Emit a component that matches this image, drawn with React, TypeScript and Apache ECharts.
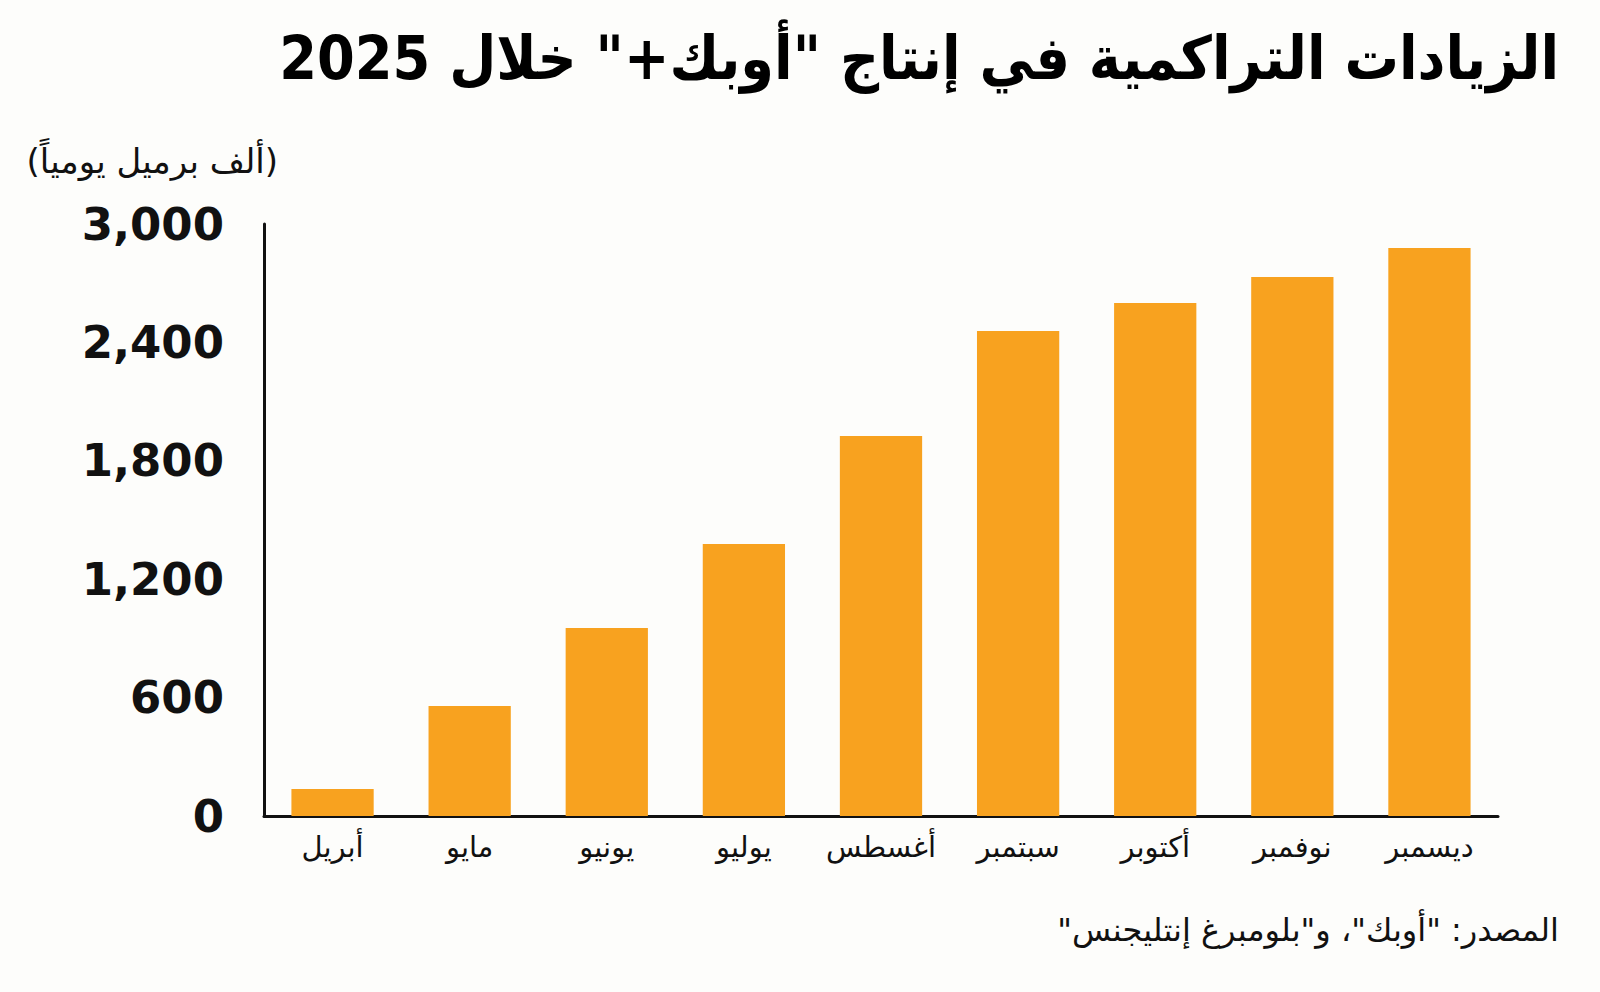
import React, { useEffect, useRef } from "react";
import * as echarts from "echarts";

const months = ["أبريل", "مايو", "يونيو", "يوليو", "أغسطس", "سبتمبر", "أكتوبر", "نوفمبر", "ديسمبر"];
const cumulativeIncrease = [137, 558, 953, 1379, 1926, 2458, 2600, 2732, 2879];
const yTicks = [0, 600, 1200, 1800, 2400, 3000];

const titleText = "الزيادات التراكمية في إنتاج \"أوبك+\" خلال 2025";
const unitText = "(ألف برميل يومياً)";
const sourceText = "المصدر: \"أوبك\"، و\"بلومبرغ إنتليجنس\"";

const RLE = "\u202B";
const PDF = "\u202C";
const rtl = (s: string) => RLE + s + PDF;

const FONT = "'DejaVu Sans', sans-serif";

export default function App() {
  const ref = useRef<HTMLDivElement>(null);
  useEffect(() => {
    if (!ref.current) return;
    const chart = echarts.init(ref.current, null, { renderer: "svg" });
    chart.setOption({
      animation: false,
      backgroundColor: "#fdfdfb",
      grid: { left: 264, right: 102, top: 224, bottom: 176, containLabel: false },
      xAxis: {
        type: "category",
        data: months,
        axisLine: { show: true, lineStyle: { color: "#111", width: 3 } },
        axisTick: { show: false },
        axisLabel: { color: "#111", fontSize: 29, fontFamily: FONT, margin: 16, interval: 0 },
      },
      yAxis: {
        type: "value",
        min: yTicks[0],
        max: yTicks[yTicks.length - 1],
        interval: 600,
        axisLine: { show: true, lineStyle: { color: "#111", width: 3 } },
        axisTick: { show: false },
        splitLine: { show: false },
        axisLabel: {
          color: "#111",
          fontSize: 45,
          fontWeight: "bold",
          fontFamily: FONT,
          margin: 40,
          formatter: (v: number) => v.toLocaleString("en-US"),
        },
      },
      series: [
        {
          type: "bar",
          data: cumulativeIncrease,
          barWidth: "60%",
          itemStyle: { color: "#F8A21F" },
        },
      ],
      graphic: [
        {
          type: "text",
          x: 1559,
          y: 58,
          scaleX: 0.905,
          style: {
            text: rtl(titleText),
            fill: "#000",
            font: `900 60px ${FONT}`,
            textAlign: "right",
            textVerticalAlign: "middle",
          },
        },
        {
          type: "text",
          x: 278,
          y: 161,
          style: {
            text: rtl(unitText),
            fill: "#111",
            font: `34px ${FONT}`,
            textAlign: "right",
            textVerticalAlign: "middle",
          },
        },
        {
          type: "text",
          x: 1559,
          y: 930,
          style: {
            text: rtl(sourceText),
            fill: "#111",
            font: `32px ${FONT}`,
            textAlign: "right",
            textVerticalAlign: "middle",
          },
        },
      ],
    });
    return () => chart.dispose();
  }, []);
  return (
    <div
      ref={ref}
      style={{ position: "absolute", left: 0, top: 0, width: 1600, height: 992 }}
    />
  );
}
